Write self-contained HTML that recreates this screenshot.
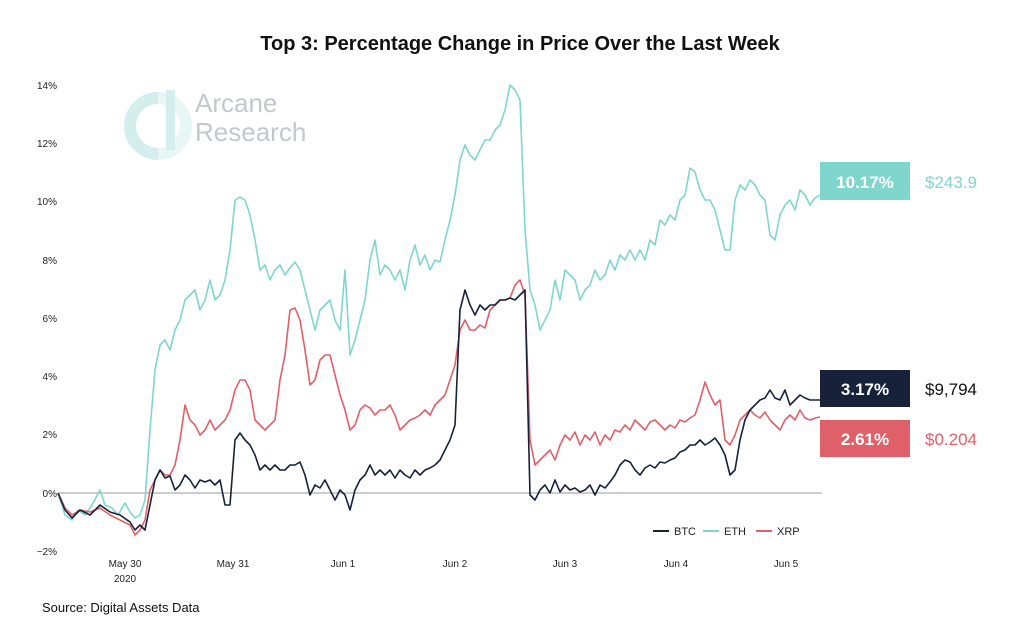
<!DOCTYPE html>
<html><head><meta charset="utf-8"><style>
body{margin:0;background:#fff;width:1024px;height:623px;overflow:hidden;font-family:"Liberation Sans",sans-serif}
</style></head><body>
<svg width="1024" height="623" viewBox="0 0 1024 623" xmlns="http://www.w3.org/2000/svg" font-family="Liberation Sans, sans-serif">
<rect width="1024" height="623" fill="#fff"/>
<text x="520" y="50" text-anchor="middle" font-size="20" font-weight="bold" fill="#111">Top 3: Percentage Change in Price Over the Last Week</text>
<path d="M158 98 A28 28 0 1 0 158 154" fill="none" stroke="#d4eeee" stroke-width="12"/>
<path d="M158 98 A28 28 0 0 1 158 154" fill="none" stroke="#e8f6f6" stroke-width="12"/>
<rect x="166" y="90" width="9" height="60" fill="#d4eeee"/>
<text x="195" y="112" font-size="26" fill="#c4c8ce">Arcane</text>
<text x="195" y="141" font-size="26" fill="#c4c8ce">Research</text>
<g font-size="10" fill="#222" text-anchor="end">
<text x="57" y="89">14%</text><text x="57" y="147">12%</text><text x="57" y="205">10%</text>
<text x="57" y="264">8%</text><text x="57" y="322">6%</text><text x="57" y="380">4%</text>
<text x="57" y="438">2%</text><text x="57" y="497">0%</text><text x="57" y="555">−2%</text>
</g>
<line x1="58" y1="493" x2="822" y2="493" stroke="#999" stroke-width="1"/>
<g font-size="10" fill="#222" text-anchor="middle">
<text x="125" y="567">May 30</text><text x="125" y="582">2020</text>
<text x="233" y="567">May 31</text><text x="343" y="567">Jun 1</text><text x="455" y="567">Jun 2</text>
<text x="565" y="567">Jun 3</text><text x="676" y="567">Jun 4</text><text x="786" y="567">Jun 5</text>
</g>
<g fill="none" stroke-width="1.6" stroke-linejoin="round">
<polyline stroke="#7fd6cc" points="58,493 65,515 72,520 78,510 85,515 92,505 100,490 105,505 112,508 118,515 125,503 130,512 135,518 140,515 145,500 150,430 155,370 160,345 165,340 170,350 175,330 180,320 185,300 190,295 195,290 200,310 205,300 210,280 215,300 220,295 225,280 230,250 235,200 240,197 245,200 250,215 255,240 260,270 265,265 270,280 275,270 280,265 285,275 290,268 295,262 300,270 305,290 310,310 315,330 320,310 325,305 330,300 335,320 340,330 345,270 350,355 355,340 360,320 365,300 370,260 375,240 380,275 385,265 390,270 395,280 400,270 405,290 410,260 415,245 420,265 425,255 430,270 435,260 440,262 445,240 450,220 455,195 460,160 465,145 470,155 475,160 480,150 485,140 490,140 495,130 500,125 505,110 510,85 515,90 520,100 525,230 530,290 535,305 540,330 545,320 550,310 555,280 560,300 565,270 570,275 575,280 580,300 585,290 590,285 595,270 600,280 605,275 610,260 615,270 620,255 625,260 630,250 635,260 640,250 645,260 650,240 655,245 660,220 665,225 670,215 675,220 680,200 685,195 690,168 695,172 700,190 705,200 710,200 715,210 720,230 725,250 730,250 735,200 740,185 745,190 750,180 755,185 760,195 765,200 770,235 775,240 780,215 785,205 790,200 795,210 800,190 805,195 810,205 815,198 820,195"/>
<polyline stroke="#e0606a" points="58,493 65,508 72,515 80,510 90,512 100,508 110,515 120,520 130,525 135,535 140,530 145,520 150,490 155,480 160,470 165,475 170,475 175,465 180,440 185,405 190,420 195,425 200,435 205,430 210,420 215,430 220,425 225,420 230,410 235,390 240,380 245,380 250,390 255,420 260,425 265,430 270,425 275,420 280,380 285,355 290,310 295,308 300,320 305,350 310,385 315,380 320,360 325,355 330,355 335,375 340,395 345,410 350,430 355,425 360,410 365,405 370,408 375,415 380,410 385,410 390,405 395,415 400,430 405,425 410,420 415,418 420,415 425,410 430,415 435,405 440,400 445,395 450,380 455,365 460,330 465,320 470,330 475,330 480,325 485,328 490,310 495,305 500,300 505,300 510,298 515,285 520,280 525,295 530,440 535,465 540,460 545,455 550,450 555,460 560,445 565,435 570,440 575,432 580,445 585,435 590,440 595,432 600,445 605,435 610,440 615,430 620,432 625,425 630,430 635,420 640,425 645,430 650,422 655,420 660,425 665,430 670,425 675,428 680,420 685,422 690,418 695,415 700,400 705,382 710,395 715,405 720,400 725,440 730,445 735,435 740,420 745,415 750,410 755,415 760,418 765,412 770,420 775,425 780,430 785,420 790,415 795,420 800,410 805,418 810,420 815,418 820,417"/>
<polyline stroke="#17223a" points="58,493 65,510 72,518 80,510 90,515 100,505 110,512 120,515 130,522 135,530 140,525 145,530 150,505 155,480 160,470 165,478 170,476 175,490 180,485 185,475 190,480 195,488 200,480 205,482 210,480 215,485 220,480 225,505 230,505 235,440 240,433 245,440 250,445 255,455 260,470 265,465 270,470 275,465 280,470 285,470 290,465 295,465 300,462 305,475 310,495 315,485 320,488 325,480 330,490 335,500 340,490 345,495 350,510 355,490 360,480 365,475 370,465 375,475 380,470 385,475 390,470 395,478 400,470 405,475 410,478 415,470 420,475 425,470 430,468 435,465 440,460 445,450 450,440 455,425 460,310 465,290 470,305 475,315 480,305 485,310 490,305 495,305 500,300 505,300 510,298 515,300 520,295 525,290 530,495 535,500 540,490 545,485 550,493 555,480 560,492 565,485 570,490 575,488 580,492 585,490 590,485 595,495 600,485 605,488 610,482 615,475 620,465 625,460 630,462 635,470 640,475 645,468 650,465 655,468 660,462 665,463 670,460 675,458 680,452 685,450 690,445 695,445 700,440 705,445 710,442 715,438 720,445 725,455 730,475 735,470 740,440 745,420 750,410 755,405 760,400 765,398 770,390 775,398 780,400 785,390 790,405 795,400 800,395 805,398 810,400 815,400 820,400"/>
</g>
<g font-size="11" fill="#222">
<line x1="653" y1="531" x2="669" y2="531" stroke="#17223a" stroke-width="2"/><text x="674" y="535">BTC</text>
<line x1="703" y1="531" x2="719" y2="531" stroke="#7fd6cc" stroke-width="2"/><text x="724" y="535">ETH</text>
<line x1="756" y1="531" x2="772" y2="531" stroke="#e0606a" stroke-width="2"/><text x="777" y="535">XRP</text>
</g>
<rect x="820" y="162" width="90" height="38" fill="#7fd6cc"/>
<text x="865" y="188" text-anchor="middle" font-size="17" font-weight="bold" fill="#fff">10.17%</text>
<text x="925" y="188" font-size="17" fill="#7fd6cc">$243.9</text>
<rect x="820" y="370" width="90" height="37" fill="#17223a"/>
<text x="865" y="395" text-anchor="middle" font-size="17" font-weight="bold" fill="#fff">3.17%</text>
<text x="925" y="395" font-size="17" fill="#111">$9,794</text>
<rect x="820" y="420" width="90" height="37" fill="#e0606a"/>
<text x="865" y="445" text-anchor="middle" font-size="17" font-weight="bold" fill="#fff">2.61%</text>
<text x="925" y="445" font-size="17" fill="#e0606a">$0.204</text>
<text x="42" y="612" font-size="13" fill="#111">Source: Digital Assets Data</text>
</svg>
</body></html>
